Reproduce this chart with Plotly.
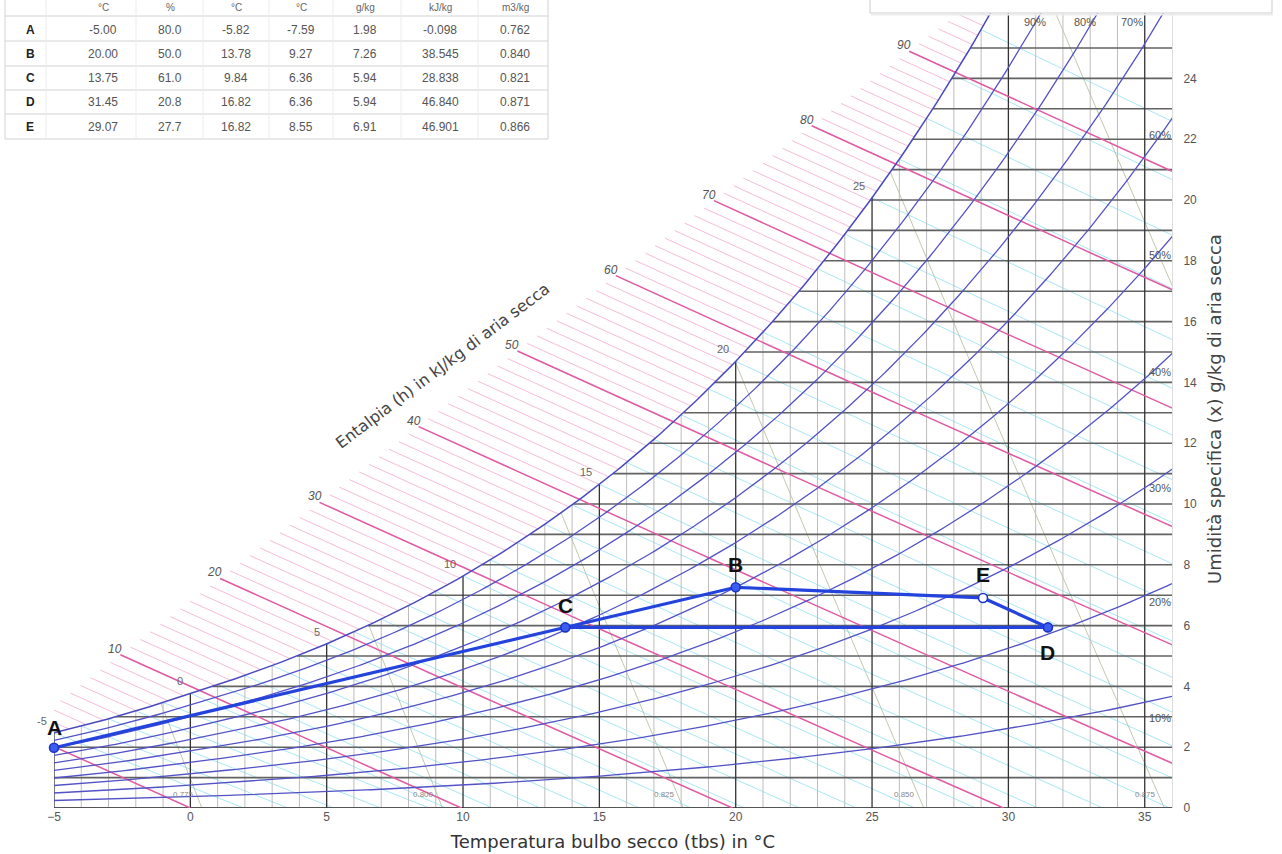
import math
import numpy as np
import plotly.graph_objects as go

# ---------------- data (state table of the process) ----------------
point_names = ["A", "B", "C", "D", "E"]
t_dry = [-5.00, 20.00, 13.75, 31.45, 29.07]        # °C
rel_hum = [80.0, 50.0, 61.0, 20.8, 27.7]           # %
t_wet = [-5.82, 13.78, 9.84, 16.82, 16.82]         # °C
t_dewp = [-7.59, 9.27, 6.36, 6.36, 8.55]           # °C
x_spec = [1.98, 7.26, 5.94, 5.94, 6.91]            # g/kg
enthalpy = [-0.098, 38.545, 28.838, 46.840, 46.901]  # kJ/kg
spec_vol = [0.762, 0.840, 0.821, 0.871, 0.866]     # m3/kg
table_units = ["°C", "%", "°C", "°C", "g/kg", "kJ/kg", "m3/kg"]
process_path = ["A", "C", "B", "E", "D", "C"]

# ---------------- chart scales ----------------
rh_curves = [10, 20, 30, 40, 50, 60, 70, 80, 90]
rh_labels = [10, 20, 30, 40, 50, 60, 70, 80, 90]
h_fine = list(range(1, 97))
h_major = [0, 10, 20, 30, 40, 50, 60, 70, 80, 90]
h_major_labels = [10, 20, 30, 40, 50, 60, 70, 80, 90]
wb_lines = list(range(-5, 30))
wb_labels = [-5, 0, 5, 10, 15, 20, 25]
v_lines = [0.750, 0.775, 0.800, 0.825, 0.850, 0.875, 0.900]
v_labels = [0.775, 0.800, 0.825, 0.850, 0.875]
t_ticks = [-5, 0, 5, 10, 15, 20, 25, 30, 35]
x_ticks = [0, 2, 4, 6, 8, 10, 12, 14, 16, 18, 20, 22, 24]
t_grid = list(range(-5, 36))
x_grid = list(range(1, 26))

# ---------------- layout constants ----------------
W, H = 1282, 854
ML, MR, MT, MB = 54, 110, 10, 46
PW, PH = W - ML - MR, H - MT - MB
T_MIN, T_MAX = -5, 36
X_MIN, X_MAX = 0, 26.25
P_ATM = 101.325
BOUNDARY = ((-2.58, 5.03), (26.56, 25.03))   # enthalpy scale line (data coords)
rh_label_pos = {10: (35.55, 2.96), 20: (35.55, 6.78), 30: (35.55, 10.53), 40: (35.55, 14.34),
                50: (35.55, 18.19), 60: (35.55, 22.14), 70: (34.55, 25.86), 80: (32.8, 25.86),
                90: (30.96, 25.86)}
point_label_shift = {"A": 20, "B": 23, "C": 22, "D": -25, "E": 23}
marker_fill = {"E": "white"}
TITLE_FONT = "DejaVu Sans, Liberation Sans, Arial"


def pxx(px):
    return (px - ML) / PW


def pxy(py):
    return (H - MB - py) / PH


def psat(t):
    if t >= 0:
        return 0.61078 * math.exp(17.27 * t / (t + 237.3))
    return 0.61078 * math.exp(21.875 * t / (t + 265.5))


def x_from_pv(pv):
    return 622.0 * pv / (P_ATM - pv)


def x_sat(t):
    return x_from_pv(psat(t))


def x_rh(t, r):
    return x_from_pv(r / 100.0 * psat(t))


def enth(t, x):
    return 1.006 * t + x * (2501 + 1.86 * t) / 1000.0


def x_of_h(t, h):
    return (h - 1.006 * t) * 1000.0 / (2501 + 1.86 * t)


def bisect(f, a, b, n=60):
    fa = f(a)
    for _ in range(n):
        m = 0.5 * (a + b)
        fm = f(m)
        if (fm > 0) == (fa > 0):
            a, fa = m, fm
        else:
            b = m
    return 0.5 * (a + b)


def x_bound(t):
    (t0, x0), (t1, x1) = BOUNDARY
    return x0 + (x1 - x0) / (t1 - t0) * (t - t0)


def t_dew(x):
    return bisect(lambda t: x_sat(t) - x, -40, 60)


def t_on_boundary(h):
    return bisect(lambda t: enth(t, x_bound(t)) - h, -30, 45)


def t_on_sat(h):
    return bisect(lambda t: enth(t, x_sat(t)) - h, -30, 45)


def wb_x(t, tw):
    ws = x_sat(tw) / 1000.0
    if tw >= 0:
        return 1000.0 * ((2501 - 2.326 * tw) * ws - 1.006 * (t - tw)) / (2501 + 1.86 * t - 4.186 * tw)
    return 1000.0 * ((2830 - 0.24 * tw) * ws - 1.006 * (t - tw)) / (2830 + 1.86 * t - 2.1 * tw)


def t_of_v(v, x):
    return v * P_ATM / (0.287042 * (1 + 1.6078 * x / 1000.0)) - 273.15


fig = go.Figure()


def add_lines(segs, color, width):
    xs, ys = [], []
    for sx, sy in segs:
        xs += list(sx) + [None]
        ys += list(sy) + [None]
    fig.add_trace(go.Scatter(x=xs, y=ys, mode="lines", line=dict(color=color, width=width),
                             hoverinfo="skip", showlegend=False))


# specific volume lines
segs = []
for v in v_lines:
    xt = bisect(lambda x: x_sat(t_of_v(v, x)) - x, 0, 60)
    xx = np.linspace(0, xt, 12)
    segs.append(([t_of_v(v, x) for x in xx], xx))
add_lines(segs, "rgba(150,165,120,0.6)", 1)

# wet bulb lines
segs = []
for tw in wb_lines:
    t_end = bisect(lambda t: wb_x(t, tw), tw, 80)
    tt = np.linspace(tw, min(t_end, 37), 12)
    segs.append((tt, [wb_x(t, tw) for t in tt]))
add_lines(segs, "rgba(110,215,235,0.6)", 1)

# vertical grid
light, dark = [], []
for t in t_grid:
    seg = ([t, t], [0, x_sat(t)])
    (dark if t % 5 == 0 else light).append(seg)
add_lines(light, "#bdbdbd", 1)

# horizontal grid
segs = [([t_dew(x), T_MAX], [x, x]) for x in x_grid]
add_lines(segs, "#626262", 1.6)
add_lines([([T_MIN, T_MAX], [0, 0])], "#555555", 2)
add_lines(dark, "#333333", 1.3)

# enthalpy hatch (fine)
segs = []
for h in h_fine:
    tb, ts = t_on_boundary(h), t_on_sat(h)
    if ts > tb:
        tt = np.linspace(tb, ts, 6)
        segs.append((tt, [x_of_h(t, h) for t in tt]))
add_lines(segs, "rgba(240,130,185,0.55)", 1)

# enthalpy major lines
segs = []
for h in h_major:
    tb = t_on_boundary(h)
    te = min(h / 1.006, 37)
    tt = np.linspace(tb, te, 30)
    segs.append((tt, [x_of_h(t, h) for t in tt]))
add_lines(segs, "#e15aa3", 1.5)

# relative humidity curves
tt = np.linspace(T_MIN, T_MAX + 0.5, 240)
segs = [(tt, [x_rh(t, r) for t in tt]) for r in rh_curves]
add_lines(segs, "#5252c6", 1.3)
add_lines([(tt, [x_sat(t) for t in tt])], "#4a4ac0", 1.5)

# process
idx = {n: i for i, n in enumerate(point_names)}
fig.add_trace(go.Scatter(x=[t_dry[idx[n]] for n in process_path],
                         y=[x_spec[idx[n]] for n in process_path],
                         mode="lines", line=dict(color="#2343dc", width=3.2),
                         hoverinfo="skip", showlegend=False, cliponaxis=False))
fig.add_trace(go.Scatter(x=t_dry, y=x_spec, mode="markers", cliponaxis=False,
                         marker=dict(size=9, color=[marker_fill.get(n, "#3d5cf0") for n in point_names],
                                     line=dict(color="#1a36c8", width=1.6)),
                         hoverinfo="skip", showlegend=False))

ann = []
for n in point_names:
    i = idx[n]
    ann.append(dict(x=t_dry[i], y=x_spec[i], xref="x", yref="y", text="<b>%s</b>" % n,
                    showarrow=False, yshift=point_label_shift[n],
                    font=dict(size=21, color="#111", family="Liberation Sans, Arial")))

# enthalpy labels
for h in h_major_labels:
    tb = t_on_boundary(h)
    ann.append(dict(x=tb, y=x_bound(tb), xref="x", yref="y", text=str(h), showarrow=False,
                    xanchor="right", yanchor="middle", xshift=4, yshift=6,
                    font=dict(size=12, color="#555", style="italic")))
ann.append(dict(x=9.26, y=14.57, xref="x", yref="y", text="Entalpia (h) in kJ/kg di aria secca",
                showarrow=False, textangle=-37,
                font=dict(size=16, color="#444", family=TITLE_FONT)))

# saturation (wet bulb) labels
for tw in wb_labels:
    ann.append(dict(x=tw, y=x_sat(tw), xref="x", yref="y", text=str(tw), showarrow=False,
                    xanchor="right", yanchor="bottom", xshift=-5, yshift=4,
                    font=dict(size=11, color="#666")))

# RH labels
for r in rh_labels:
    px_, py_ = rh_label_pos[r]
    ann.append(dict(x=px_, y=py_, xref="x", yref="y", text="%d%%" % r, showarrow=False,
                    font=dict(size=11, color="#555")))

# specific volume labels
for v in v_labels:
    ann.append(dict(x=t_of_v(v, 0.43), y=0.43, xref="x", yref="y", text="%.3f" % v,
                    showarrow=False, xanchor="right", xshift=-1,
                    font=dict(size=8, color="#888")))

# ---- state table (top-left) ----
shapes = []
row_lines = [16, 41, 66, 90, 114, 139]
for py in row_lines:
    shapes.append(dict(type="line", xref="paper", yref="paper", x0=pxx(5), x1=pxx(548),
                       y0=pxy(py), y1=pxy(py), line=dict(color="#d2d2d2", width=1)))
for px in [5, 548]:
    shapes.append(dict(type="line", xref="paper", yref="paper", x0=pxx(px), x1=pxx(px),
                       y0=pxy(-5), y1=pxy(139), line=dict(color="#d2d2d2", width=1)))
for px in [46, 136, 203, 269, 333, 401, 478]:
    shapes.append(dict(type="line", xref="paper", yref="paper", x0=pxx(px), x1=pxx(px),
                       y0=pxy(-5), y1=pxy(139), line=dict(color="#ececec", width=1)))
col_x = [103, 170, 236, 301, 365, 440, 515]
row_y = [30, 54, 78, 102, 127]
for c, u in enumerate(table_units):
    ann.append(dict(x=pxx(col_x[c]), y=pxy(7), xref="paper", yref="paper", text=u,
                    xanchor="center", yanchor="middle",
                    showarrow=False, font=dict(size=10, color="#666")))
columns = [["%.2f" % v for v in t_dry], ["%.1f" % v for v in rel_hum],
           ["%.2f" % v for v in t_wet], ["%.2f" % v for v in t_dewp],
           ["%.2f" % v for v in x_spec], ["%.3f" % v for v in enthalpy],
           ["%.3f" % v for v in spec_vol]]
for r, n in enumerate(point_names):
    ann.append(dict(x=pxx(30), y=pxy(row_y[r]), xref="paper", yref="paper", text="<b>%s</b>" % n,
                    xanchor="center", yanchor="middle",
                    showarrow=False, font=dict(size=12, color="#222")))
    for c in range(7):
        ann.append(dict(x=pxx(col_x[c]), y=pxy(row_y[r]), xref="paper", yref="paper",
                        xanchor="center", yanchor="middle",
                        text=columns[c][r], showarrow=False, font=dict(size=12, color="#555")))

# top-right box
shapes.append(dict(type="rect", xref="paper", yref="paper", x0=pxx(870), x1=pxx(1272),
                   y0=pxy(13), y1=pxy(-10), fillcolor="white", layer="above",
                   line=dict(color="#cccccc", width=1)))
shapes.append(dict(type="line", xref="paper", yref="paper", x0=pxx(871), x1=pxx(1273),
                   y0=pxy(14.5), y1=pxy(14.5), layer="above", line=dict(color="#ececec", width=2)))

fig.update_layout(
    width=W, height=H, margin=dict(l=ML, r=MR, t=MT, b=MB, autoexpand=False),
    paper_bgcolor="white", plot_bgcolor="white", showlegend=False,
    font=dict(family="Liberation Sans, Arial, sans-serif", color="#444"),
    annotations=ann, shapes=shapes,
)
fig.update_xaxes(range=[T_MIN, T_MAX], tickvals=t_ticks, showgrid=False, zeroline=False,
                 showline=False, ticks="", tickfont=dict(size=12, color="#555"), automargin=False,
                 title=dict(text="Temperatura bulbo secco (tbs) in °C",
                            font=dict(size=18, color="#333", family=TITLE_FONT), standoff=12))
fig.update_yaxes(range=[X_MIN, X_MAX], side="right", tickvals=x_ticks, showgrid=False,
                 zeroline=False, showline=True, linecolor="#dddddd", ticks="", automargin=False,
                 ticklabelstandoff=8, tickfont=dict(size=12, color="#555"),
                 title=dict(text="Umidità specifica (x) g/kg di aria secca",
                            font=dict(size=18, color="#444", family=TITLE_FONT), standoff=12))

fig.write_html("out.html")
